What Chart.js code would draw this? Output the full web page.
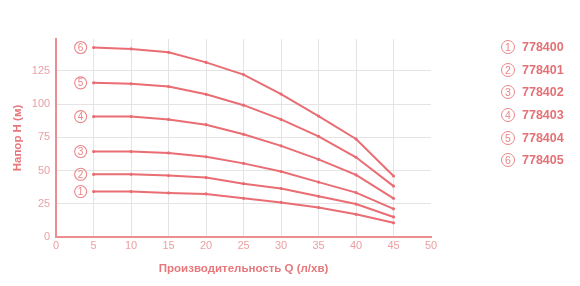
<!DOCTYPE html>
<html>
<head>
<meta charset="utf-8">
<script src="https://cdn.jsdelivr.net/npm/chart.js@4/dist/chart.umd.min.js"></script>
<style>
  body { margin: 0; background: #fff; font-family: "Liberation Sans", Arial, sans-serif; }
  #wrap { position: relative; width: 580px; height: 286px; }
  #legend { position: absolute; left: 501px; top: 36px; }
  .item { height: 22.6px; display: flex; align-items: center; color: #e37176; font-weight: bold; font-size: 12.5px; }
  .num { display: inline-block; width: 12px; height: 12px; border: 1.2px solid #e9868a; border-radius: 50%;
         font-size: 10.5px; font-weight: normal; line-height: 12px; text-align: center; margin-right: 7px; color: #e9868a; }
</style>
</head>
<body>
<div id="wrap">
  <canvas id="chart" width="580" height="286"></canvas>
  <div id="legend"></div>
</div>
<script>
// Подача Q (л/хв)
const flow = [5, 10, 15, 20, 25, 30, 35, 40, 45];
// Модели насосов
const models = ['778400', '778401', '778402', '778403', '778404', '778405'];
// Напор H (м) для каждой модели
const head1 = [34.2, 34.2, 33.2, 32.4, 29.1, 26.0, 22.2, 17.1, 10.7];
const head2 = [47.2, 47.2, 46.2, 44.7, 40.1, 36.5, 30.6, 24.8, 15.1];
const head3 = [64.3, 64.3, 63.3, 60.4, 55.4, 49.3, 41.3, 33.4, 21.2];
const head4 = [90.6, 90.6, 88.5, 84.5, 77.3, 68.6, 58.4, 46.7, 29.1];
const head5 = [116.0, 115.3, 113.2, 107.4, 99.2, 88.5, 75.7, 60.0, 38.3];
const head6 = [142.6, 141.5, 139.0, 131.4, 122.2, 107.6, 91.0, 73.8, 45.9];
const heads = [head1, head2, head3, head4, head5, head6];

const lineColor = '#e96d73';
const tickColor = '#eba0a3';
const titleColor = '#e7777b';

// Легенда справа
const legendEl = document.getElementById('legend');
models.forEach((m, i) => {
  const row = document.createElement('div');
  row.className = 'item';
  row.innerHTML = '<span class="num">' + (i + 1) + '</span>' + m;
  legendEl.appendChild(row);
});

// Номера кривых в кружках слева от первой точки
const circleLabels = {
  id: 'circleLabels',
  afterDatasetsDraw(chart) {
    const ctx = chart.ctx;
    ctx.save();
    chart.data.datasets.forEach((ds, i) => {
      const meta = chart.getDatasetMeta(i);
      const p = meta.data[0];
      const cx = p.x - 13, cy = p.y;
      ctx.beginPath();
      ctx.arc(cx, cy, 6, 0, Math.PI * 2);
      ctx.strokeStyle = '#e9868a';
      ctx.lineWidth = 1.1;
      ctx.stroke();
      ctx.fillStyle = '#e9868a';
      ctx.font = '10px "Liberation Sans", Arial, sans-serif';
      ctx.textAlign = 'center';
      ctx.textBaseline = 'middle';
      ctx.fillText(String(i + 1), cx, cy + 0.5);
    });
    ctx.restore();
  }
};

const ctx = document.getElementById('chart').getContext('2d');
new Chart(ctx, {
  type: 'line',
  data: {
    datasets: heads.map((h, i) => ({
      label: models[i],
      data: flow.map((q, j) => ({ x: q, y: h[j] })),
      borderColor: lineColor,
      backgroundColor: lineColor,
      borderWidth: 2,
      pointRadius: 1.6,
      pointBorderWidth: 0,
      tension: 0,
      fill: false
    }))
  },
  options: {
    responsive: false,
    animation: false,
    layout: { padding: { left: 7, right: 149, top: 39, bottom: 6 } },
    scales: {
      x: {
        type: 'linear',
        min: 0,
        max: 50,
        ticks: { stepSize: 5, color: tickColor, font: { size: 11, family: '"Liberation Sans", Arial' }, padding: 2 },
        grid: {
          color: (c) => (c.tick && (c.tick.value === 0 || c.tick.value === 50)) ? 'rgba(0,0,0,0)' : '#e4e4e4',
          drawTicks: false
        },
        border: { color: '#ec8d91', width: 2 },
        title: { display: true, text: 'Производительность Q (л/хв)', color: titleColor,
                 font: { size: 11.5, weight: 'bold', family: '"Liberation Sans", Arial' }, padding: { top: 8 } }
      },
      y: {
        min: 0,
        max: 149,
        ticks: { stepSize: 25, includeBounds: false, color: tickColor, font: { size: 11, family: '"Liberation Sans", Arial' }, padding: 6 },
        grid: {
          color: (c) => (c.tick && c.tick.value === 0) ? 'rgba(0,0,0,0)' : '#e4e4e4',
          drawTicks: false
        },
        border: { color: '#ec8d91', width: 2 },
        title: { display: true, text: 'Напор H (м)', color: titleColor,
                 font: { size: 11.5, weight: 'bold', family: '"Liberation Sans", Arial' }, padding: { bottom: 1 } }
      }
    },
    plugins: {
      legend: { display: false },
      tooltip: { enabled: false }
    }
  },
  plugins: [circleLabels]
});
</script>
</body>
</html>
